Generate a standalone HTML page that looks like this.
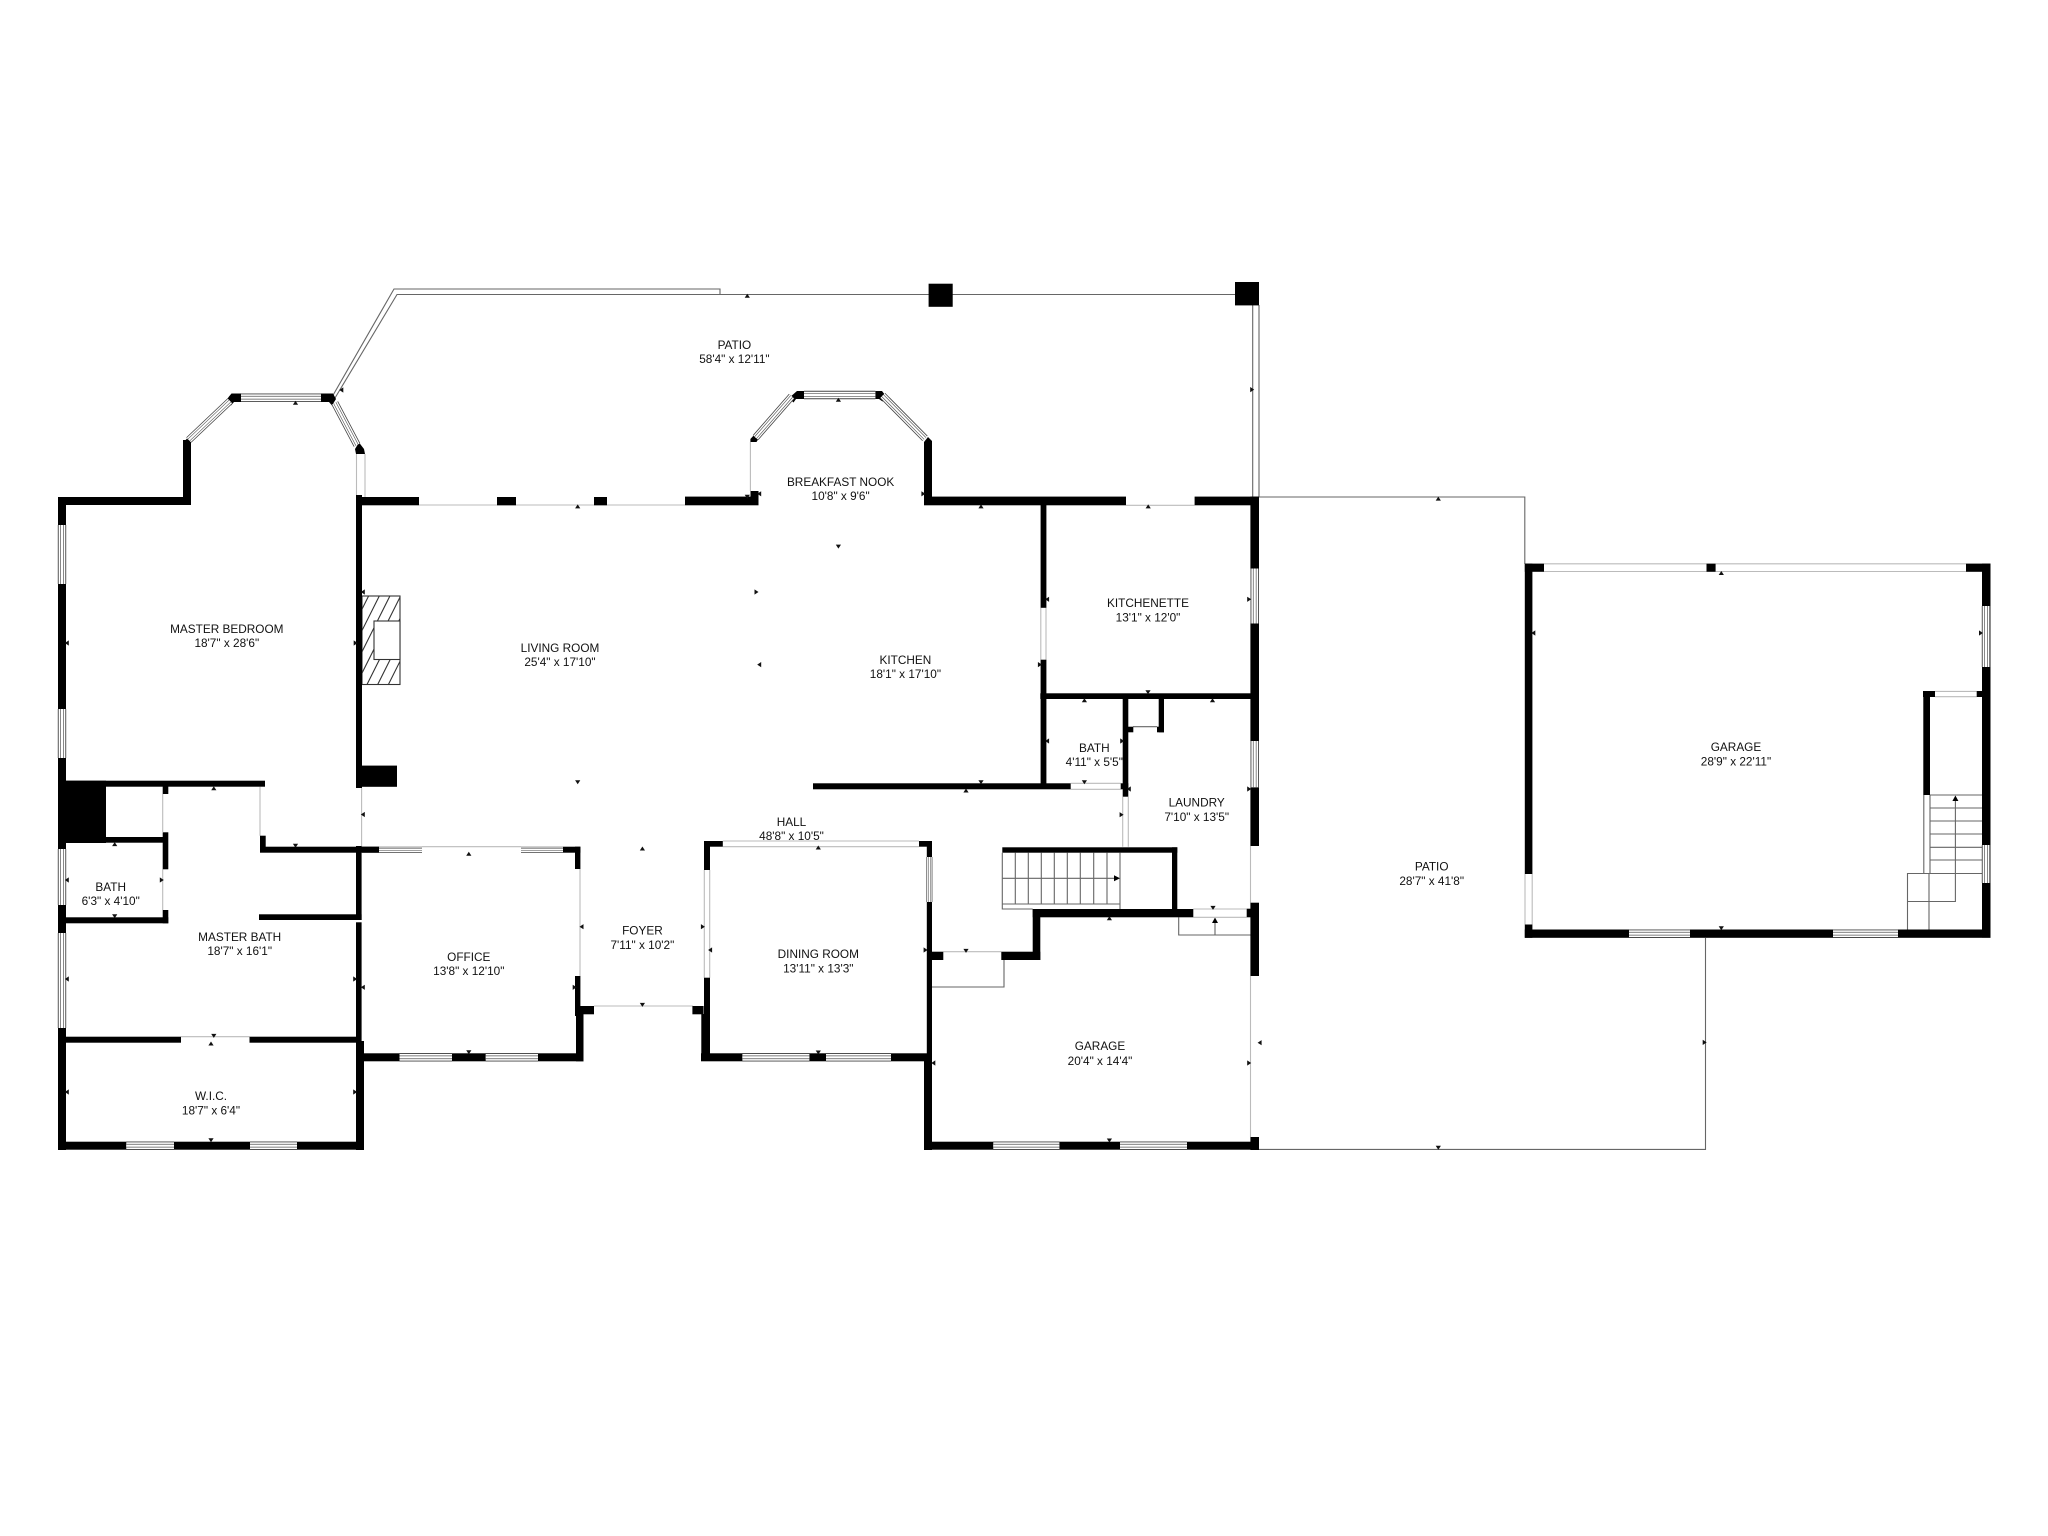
<!DOCTYPE html>
<html><head><meta charset="utf-8"><title>Floor plan</title>
<style>
html,body{margin:0;padding:0;background:#fff;width:2048px;height:1536px;overflow:hidden}
svg{display:block}
text{font-family:"Liberation Sans",Arial,sans-serif;font-size:11.8px;fill:#111;text-anchor:middle}
</style></head><body>
<svg width="2048" height="1536" viewBox="0 0 2048 1536" xmlns="http://www.w3.org/2000/svg">
<defs>
<path id="u" d="M-2.6 1.8h5.2L0-2.2z" fill="#111"/>
<path id="d" d="M-2.6-1.8h5.2L0 2.2z" fill="#111"/>
<path id="l" d="M1.8-2.6v5.2L-2.2 0z" fill="#111"/>
<path id="r" d="M-1.8-2.6v5.2L2.2 0z" fill="#111"/>
<g id="win8">
<path d="M62 525V584M62 709V758M62 849V905M62 933V1028M126.3 1145.7H174M250 1145.7H297M399.5 1057.3H452M485.7 1057.3H538M742.4 1057.3H809.4M826 1057.3H891M993.3 1145.7H1059.4M1120 1145.7H1187M1254.7 568.5V623.5M1254.7 741V787.3M1986 606V667M1986 845V883M1629 933.7H1690M1833 933.7H1898M241 397.7H321M804 395H875.4"/>
</g>
<g id="win7">
<path d="M188.8 440L230 401M334.8 403L357 445M755.6 437.6L791.7 396.3M882.6 395.6L925 438.4"/>
</g>
<g id="win6">
<path d="M379 849.7H422M521 849.7H563M929.4 857V902"/>
</g>
<clipPath id="fp"><rect x="362" y="596" width="38" height="88.5"/></clipPath>
</defs>
<rect width="2048" height="1536" fill="#fff"/>

<!-- thin gray outlines -->
<g fill="none" stroke="#666" stroke-width="1.1">
<path d="M332 397L394 289H720V294.5"/>
<path d="M335 398L397 294.5H1236"/>
<path d="M1252.7 305V497M1259 305V497"/>
<path d="M1259 497H1524.8V564"/>
<path d="M1705.5 938V1149.4H1259"/>
<path d="M1004 960V987H932"/>
<path d="M1178.7 917.3V935H1250.7M1215 935V920"/>
<path d="M1907.5 929.5V873.5H1930M1929 873.5V929.5M1907.5 901.5H1955.4V800"/>
<path d="M1930 795H1982M1930 808H1982M1930 821H1982M1930 834H1982M1930 847.3H1982M1930 860H1982M1930 873.5H1982M1923.8 795V873.5M1930 795V873.5"/>
<path d="M1002.3 852.7V909H1032.7M1002.3 904H1120M1120 852.7V909M1002.3 878.3H1115"/>
<path d="M1015.3 852.7V904M1028.3 852.7V904M1041.3 852.7V904M1054.3 852.7V904M1067.3 852.7V904M1080.3 852.7V904M1093.7 852.7V904M1107 852.7V904"/>
<path d="M1133 726.7H1157"/>
</g>
<!-- stair arrows -->
<path d="M1120 878.3l-6-3v6zM1215 917.5l-3 5.5h6zM1955.4 795.5l-3 5.5h6z" fill="#000"/>

<!-- light door openings -->
<g fill="none" stroke="#bbb" stroke-width="1.1">
<path d="M356.5 454V495M365 454V497"/>
<path d="M419 505H685"/>
<path d="M750.4 442V491"/>
<path d="M1126 505.3H1194.6"/>
<path d="M1040.8 607.8V659.7M1046 607.8V659.7"/>
<path d="M162.7 794V832M162.7 869.3V910M260 786.7V835.7M361.6 787.7V846.7"/>
<path d="M422 846.7H521M580 869V976M594 1006H693"/>
<path d="M181 1036.7H249.5M722.8 841H919M722.8 846.7H919"/>
<path d="M704.3 870V977.7M709.7 870V977.7"/>
<path d="M943.3 951.7H1001.3"/>
<path d="M1070.7 783.3H1120.7M1070.7 789.3H1120.7"/>
<path d="M1122.7 796.7V846.7M1128.3 796.7V846.7"/>
<path d="M1193.3 909H1246.7M1193.3 917.3H1246.7"/>
<path d="M1250.5 846V902.7M1250.5 976V1137"/>
<path d="M1544 563.8H1706.5M1544 571.5H1706.5M1715.6 563.8H1966M1715.6 571.5H1966"/>
<path d="M1525 874V924.5M1532.2 874V924.5"/>
<path d="M1935 691.4H1976.7M1935 696.7H1976.7"/>
</g>

<!-- fireplace -->
<g fill="none" stroke="#333" stroke-width="1.1">
<g clip-path="url(#fp)">
<path d="M324.3 684.5L368.6 596M335 684.5L379.3 596M345.6 684.5L389.9 596M356.3 684.5L400.6 596M367 684.5L411.3 596M377.7 684.5L422 596M388.4 684.5L432.7 596"/>
</g>
<rect x="362" y="596" width="38" height="88.5"/>
<rect x="374" y="621" width="26" height="38.5" fill="#fff"/>
</g>

<!-- walls -->
<g fill="#000">
<rect x="58" y="497" width="133" height="8"/>
<rect x="183" y="440" width="8" height="65"/>
<rect x="58" y="497" width="8" height="653"/>
<rect x="58" y="780.7" width="48" height="62.3"/>
<rect x="58" y="780.7" width="207" height="6"/>
<rect x="162.7" y="786" width="5.6" height="8"/>
<rect x="106" y="837" width="57" height="5.7"/>
<rect x="162.7" y="832.3" width="5.6" height="37"/>
<rect x="162.7" y="910" width="5.6" height="13.3"/>
<rect x="66" y="917.3" width="102.3" height="6"/>
<rect x="260" y="835.7" width="5.7" height="16.6"/>
<rect x="260" y="846.7" width="119" height="6"/>
<rect x="356" y="495" width="6" height="293"/>
<rect x="356" y="765.6" width="41" height="21.2"/>
<rect x="356" y="846" width="5.6" height="74"/>
<rect x="259" y="914.3" width="102.6" height="5.7"/>
<rect x="356" y="922.3" width="5.6" height="140"/>
<rect x="356" y="1041" width="8" height="109"/>
<rect x="66" y="1036.7" width="115" height="6"/>
<rect x="249.5" y="1036.7" width="106.5" height="6"/>
<rect x="58" y="1141.7" width="306" height="8"/>
<rect x="362" y="497" width="57" height="8.3"/>
<rect x="497" y="497" width="19" height="8.3"/>
<rect x="594" y="497" width="13" height="8.3"/>
<rect x="685" y="496.6" width="73.5" height="8.7"/>
<rect x="750.5" y="491" width="8" height="14"/>
<rect x="924" y="442" width="8" height="63"/>
<rect x="924" y="496.6" width="202" height="8.7"/>
<rect x="1194.6" y="496.6" width="64.4" height="8.7"/>
<rect x="1040.6" y="505" width="5.8" height="102.8"/>
<rect x="1040.6" y="659.7" width="5.8" height="129"/>
<rect x="1040.3" y="693.3" width="218.4" height="5.7"/>
<rect x="813" y="783.3" width="257.7" height="6"/>
<rect x="1122.7" y="699" width="5.6" height="97.7"/>
<rect x="1120.7" y="783.3" width="7.6" height="6"/>
<rect x="1128" y="726.7" width="5.3" height="5.6"/>
<rect x="1158.7" y="699" width="5.3" height="33.3"/>
<rect x="1157" y="726.7" width="7" height="5.6"/>
<rect x="1250.4" y="496.6" width="8.6" height="71.9"/>
<rect x="1250.4" y="623.5" width="8.6" height="117.5"/>
<rect x="1250.4" y="787.3" width="8.6" height="58.7"/>
<rect x="1250.4" y="902.7" width="8.6" height="73.3"/>
<rect x="1246.7" y="908.7" width="4" height="8.6"/>
<rect x="1250.4" y="1137" width="8.6" height="13"/>
<rect x="1002.3" y="847.3" width="175" height="5.4"/>
<rect x="1172" y="847.3" width="5.3" height="62"/>
<rect x="1032.7" y="909" width="160.6" height="8.3"/>
<rect x="1032.7" y="909" width="7.6" height="51"/>
<rect x="1001.3" y="951.7" width="39" height="8.3"/>
<rect x="932" y="951.7" width="11.3" height="8.3"/>
<rect x="924" y="1061" width="8" height="89"/>
<rect x="926.8" y="902" width="5.2" height="160"/>
<rect x="926.8" y="841" width="5.2" height="16"/>
<rect x="924" y="1141.7" width="335" height="8"/>
<rect x="362" y="846.7" width="17" height="6"/>
<rect x="563" y="846.7" width="17.4" height="6"/>
<rect x="575" y="846.7" width="5.4" height="22.3"/>
<rect x="575" y="976" width="5.4" height="40"/>
<rect x="576" y="1014" width="7.5" height="47.3"/>
<rect x="580" y="1006" width="14" height="8.3"/>
<rect x="692.4" y="1006" width="11.2" height="8.3"/>
<rect x="362" y="1053.3" width="221.5" height="8"/>
<rect x="704" y="841" width="18.8" height="5.7"/>
<rect x="704" y="841" width="6" height="29"/>
<rect x="704" y="977.7" width="6" height="40"/>
<rect x="701.3" y="1014" width="8.7" height="47"/>
<rect x="919" y="841" width="13" height="5.7"/>
<rect x="701" y="1053.3" width="231" height="8"/>
<!-- big garage -->
<rect x="1524.8" y="563.6" width="19.2" height="8.2"/>
<rect x="1706.5" y="563.6" width="9.1" height="8.2"/>
<rect x="1966" y="563.6" width="24.5" height="8.2"/>
<rect x="1524.8" y="563.6" width="7.6" height="310.4"/>
<rect x="1524.8" y="924.5" width="7.6" height="13.3"/>
<rect x="1524.8" y="929.5" width="465.7" height="8.3"/>
<rect x="1982" y="563.6" width="8.5" height="374"/>
<rect x="1923.3" y="691" width="6.7" height="104"/>
<rect x="1923" y="691" width="12" height="6"/>
<rect x="1976.7" y="691" width="6" height="6"/>
<!-- columns -->
<rect x="928.6" y="283.7" width="24.1" height="23.1"/>
<rect x="1235" y="282" width="24" height="23.4"/>
<!-- bay corners -->
<path d="M229 396.5L231.5 393.5H241V402H234L231 405.5L226.5 400Z"/>
<path d="M321 393.5H333L336 399L332 405.5L329 402H321Z"/>
<path d="M355 449L359 442.5L364 449L365 454H356Z"/>
<path d="M183 443L187 438.5L191 442.5V447H183Z"/>
<path d="M797 391H804V399H796L793.5 402.5L789 398Z"/>
<path d="M875.4 391H882L886.6 397L882.5 401.5L879 399H875.4Z"/>
<path d="M750.4 439L755 434L759 438L756.5 442H750.4Z"/>
<path d="M924 442L928 437L932 441V446H924Z"/>
</g>

<!-- windows -->
<g fill="none">
<use href="#win8" stroke="#444" stroke-width="8.4"/>
<use href="#win8" stroke="#fff" stroke-width="6.6"/>
<use href="#win8" stroke="#555" stroke-width="3.6"/>
<use href="#win8" stroke="#fff" stroke-width="2.2"/>
<use href="#win7" stroke="#444" stroke-width="7.4"/>
<use href="#win7" stroke="#fff" stroke-width="5.8"/>
<use href="#win7" stroke="#555" stroke-width="3.2"/>
<use href="#win7" stroke="#fff" stroke-width="1.9"/>
<use href="#win6" stroke="#444" stroke-width="6"/>
<use href="#win6" stroke="#fff" stroke-width="4.6"/>
<use href="#win6" stroke="#666" stroke-width="2.6"/>
<use href="#win6" stroke="#fff" stroke-width="1.4"/>
</g>

<!-- dimension ticks -->
<g>
<use href="#u" x="295.5" y="403"/><use href="#u" x="577.7" y="506.6"/><use href="#l" x="341.5" y="390"/>
<use href="#l" x="67" y="643"/><use href="#r" x="355.5" y="643"/><use href="#l" x="363" y="592"/>
<use href="#d" x="577.7" y="782"/><use href="#l" x="363" y="814.5"/><use href="#u" x="213.8" y="788.5"/>
<use href="#u" x="114.7" y="844.3"/><use href="#d" x="295.5" y="845.5"/><use href="#u" x="468.8" y="854"/>
<use href="#u" x="642.4" y="848.7"/><use href="#l" x="67" y="880"/><use href="#r" x="161.6" y="880"/>
<use href="#d" x="114.7" y="916"/><use href="#l" x="67" y="979"/><use href="#r" x="355" y="979"/>
<use href="#l" x="363" y="987.3"/><use href="#r" x="574.5" y="987.3"/><use href="#l" x="581.7" y="926.7"/>
<use href="#d" x="642.4" y="1004.7"/><use href="#d" x="213.8" y="1035.7"/><use href="#u" x="211" y="1043.7"/>
<use href="#d" x="468.8" y="1052"/><use href="#l" x="67" y="1092"/><use href="#r" x="355" y="1092"/>
<use href="#d" x="211" y="1140"/>
<use href="#u" x="747.3" y="296"/><use href="#u" x="838.4" y="400"/><use href="#r" x="1252" y="389.6"/>
<use href="#d" x="747.3" y="496.6"/><use href="#l" x="759.4" y="493.8"/><use href="#r" x="923.2" y="493.8"/>
<use href="#u" x="981" y="506.6"/><use href="#u" x="1148.2" y="506.6"/><use href="#d" x="838.4" y="546.4"/>
<use href="#r" x="756.3" y="592"/><use href="#l" x="759.4" y="664.6"/><use href="#r" x="1039.7" y="664.6"/>
<use href="#l" x="1047.3" y="599.3"/><use href="#r" x="1249" y="599.3"/><use href="#d" x="1148" y="692"/>
<use href="#u" x="1084.4" y="700.5"/><use href="#u" x="1212.5" y="700.5"/><use href="#l" x="1047.3" y="741"/>
<use href="#r" x="1122" y="741"/><use href="#d" x="981" y="782"/><use href="#u" x="966" y="790.7"/>
<use href="#d" x="1084.4" y="782"/><use href="#l" x="1129" y="789"/><use href="#r" x="1249" y="789"/>
<use href="#r" x="1121.4" y="814.7"/><use href="#u" x="818.3" y="847.7"/><use href="#r" x="702.7" y="926.7"/>
<use href="#l" x="710.3" y="950"/><use href="#r" x="925.4" y="950"/><use href="#d" x="966" y="950.7"/>
<use href="#u" x="1109.4" y="918.5"/><use href="#d" x="1213" y="907.7"/><use href="#d" x="818.3" y="1052.3"/>
<use href="#l" x="933.5" y="1063"/><use href="#r" x="1249" y="1063"/><use href="#d" x="1109.4" y="1140.3"/>
<use href="#l" x="1259.8" y="1042.7"/><use href="#u" x="1438.3" y="498.8"/><use href="#u" x="1721.3" y="573.2"/>
<use href="#l" x="1533.5" y="633"/><use href="#r" x="1980.8" y="633"/><use href="#d" x="1721.3" y="928"/>
<use href="#r" x="1704.5" y="1042.4"/><use href="#d" x="1438.3" y="1147.6"/>
</g>

<!-- labels -->
<g>
<text x="226.8" y="633">MASTER BEDROOM</text><text x="226.8" y="646.8">18'7" x 28'6"</text>
<text x="560" y="652">LIVING ROOM</text><text x="560" y="666">25'4" x 17'10"</text>
<text x="734.4" y="348.8">PATIO</text><text x="734.4" y="362.8">58'4" x 12'11"</text>
<text x="840.6" y="486">BREAKFAST NOOK</text><text x="840.6" y="500">10'8" x 9'6"</text>
<text x="905.4" y="663.8">KITCHEN</text><text x="905.4" y="677.8">18'1" x 17'10"</text>
<text x="1148" y="607">KITCHENETTE</text><text x="1148" y="621.7">13'1" x 12'0"</text>
<text x="1094.3" y="751.8">BATH</text><text x="1094.3" y="765.8">4'11" x 5'5"</text>
<text x="1196.7" y="806.4">LAUNDRY</text><text x="1196.7" y="820.8">7'10" x 13'5"</text>
<text x="791.5" y="826">HALL</text><text x="791.5" y="840">48'8" x 10'5"</text>
<text x="818.3" y="958">DINING ROOM</text><text x="818.3" y="972.4">13'11" x 13'3"</text>
<text x="1100" y="1050">GARAGE</text><text x="1100" y="1064.8">20'4" x 14'4"</text>
<text x="642.4" y="934.4">FOYER</text><text x="642.4" y="948.8">7'11" x 10'2"</text>
<text x="468.8" y="960.8">OFFICE</text><text x="468.8" y="974.8">13'8" x 12'10"</text>
<text x="110.7" y="890.8">BATH</text><text x="110.7" y="904.8">6'3" x 4'10"</text>
<text x="239.7" y="940.8">MASTER BATH</text><text x="239.7" y="955">18'7" x 16'1"</text>
<text x="211" y="1100">W.I.C.</text><text x="211" y="1114.4">18'7" x 6'4"</text>
<text x="1431.7" y="870.7">PATIO</text><text x="1431.7" y="884.9">28'7" x 41'8"</text>
<text x="1736" y="750.9">GARAGE</text><text x="1736" y="765.6">28'9" x 22'11"</text>
</g>
</svg>
</body></html>
